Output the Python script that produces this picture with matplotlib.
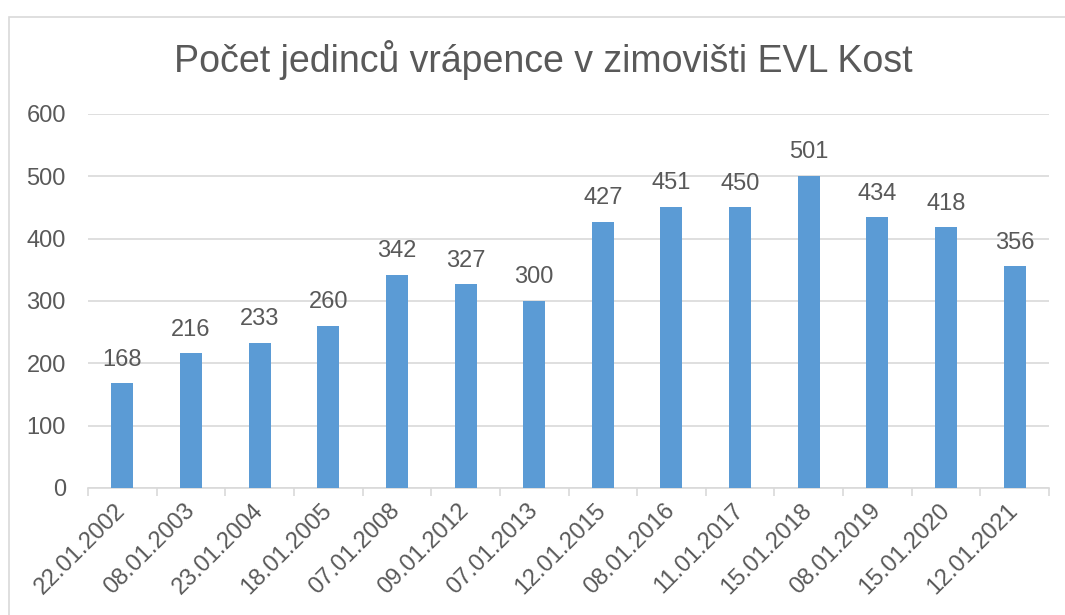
import matplotlib.pyplot as plt
from matplotlib.patches import Rectangle

plt.rcParams['font.family'] = ['Liberation Sans', 'DejaVu Sans']

dates = ['22.01.2002', '08.01.2003', '23.01.2004', '18.01.2005', '07.01.2008',
         '09.01.2012', '07.01.2013', '12.01.2015', '08.01.2016', '11.01.2017',
         '15.01.2018', '08.01.2019', '15.01.2020', '12.01.2021']
counts = [168, 216, 233, 260, 342, 327, 300, 427, 451, 450, 501, 434, 418, 356]

text_col = '#595959'
grid_col = '#D9D9D9'

fig = plt.figure(figsize=(10.65, 6.15), dpi=100)
ax = fig.add_axes([88 / 1065, 1 - 488 / 615, 961 / 1065, 374 / 615])

# chart frame (cut off at right and bottom like the original)
fig.patches.append(Rectangle((9 / 1065, -0.1), 1.2, 0.1 + 1 - 17 / 615,
                             transform=fig.transFigure, fill=False,
                             edgecolor=grid_col, linewidth=1.2))

x = range(len(dates))
ax.bar(x, counts, width=0.32, color='#5B9BD5', zorder=3)

for i, v in enumerate(counts):
    ax.annotate(str(v), (i, v), xytext=(0, 9), textcoords='offset points',
                ha='center', va='bottom', fontsize=17, color=text_col)

ax.set_xlim(-0.5, len(dates) - 0.5)
ax.set_ylim(0, 600)
ax.set_yticks(range(0, 700, 100))
ax.grid(axis='y', color=grid_col, linewidth=1.2, zorder=0)

ax.set_xticks([i - 0.5 for i in range(len(dates) + 1)], minor=False)
ax.set_xticklabels([])
ax.set_xticks(list(x), minor=True)
ax.set_xticklabels(dates, minor=True, rotation=45, ha='right', va='center',
                   rotation_mode='anchor', fontsize=17, color=text_col)
ax.tick_params(axis='x', which='major', length=6, color=grid_col, width=1.2)
ax.tick_params(axis='x', which='minor', length=0, pad=14)
ax.tick_params(axis='y', length=0, labelsize=17, labelcolor=text_col, pad=16)

for s in ['top', 'right', 'left']:
    ax.spines[s].set_visible(False)
ax.spines['bottom'].set_color(grid_col)
ax.spines['bottom'].set_linewidth(1.2)

fig.text(543 / 1065, 1 - 60 / 615, 'Počet jedinců vrápence v zimovišti EVL Kost',
         ha='center', va='center', fontsize=27, color=text_col)

fig.savefig('out.png', dpi=100)
